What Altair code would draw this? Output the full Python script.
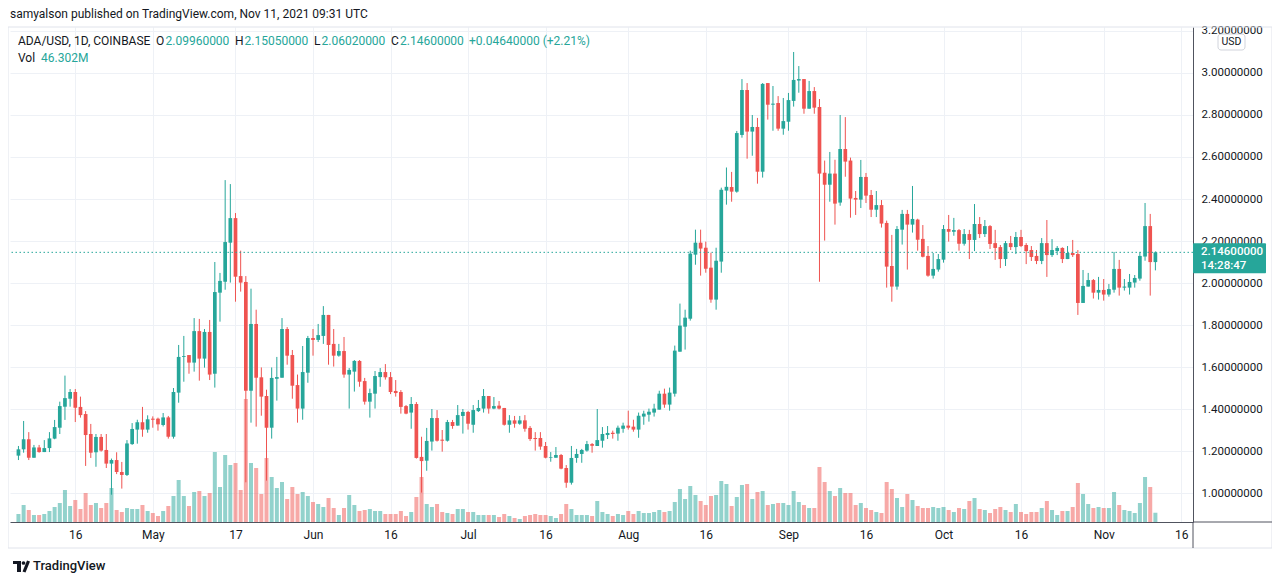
import altair as alt
import pandas as pd

FONT = "Roboto"
TEXT = "#131722"
UP = "#26a69a"
DOWN = "#ef5350"
GRID = "#eef1f6"
AXIS_LINE = "#50535e"
FRAME = "#e0e3eb"

# ---- daily ADA/USD candles, 2021-04-05 .. 2021-11-11 (one line per month) ----
opens = [
    1.178,1.208,1.256,1.168,1.217,1.195,1.214,1.259,1.311,1.411,1.449,1.481,1.410,1.376,1.281,1.194,1.267,1.205,1.140,1.157,1.100,1.086,1.233,1.302,1.337,1.302,
    1.354,1.354,1.324,1.360,1.268,1.478,1.648,1.657,1.621,1.771,1.640,1.767,1.568,1.954,2.006,2.192,2.309,2.033,2.005,1.487,1.805,1.551,1.462,1.311,1.544,1.549,1.781,1.657,1.514,1.402,1.573,
    1.738,1.729,1.748,1.848,1.710,1.654,1.676,1.564,1.578,1.629,1.533,1.435,1.473,1.552,1.576,1.552,1.486,1.481,1.414,1.383,1.424,1.172,1.154,1.245,1.357,1.254,1.249,1.338,1.321,1.367,
    1.386,1.325,1.390,1.402,1.462,1.402,1.416,1.405,1.325,1.346,1.330,1.346,1.310,1.262,1.262,1.224,1.168,1.168,1.181,1.119,1.049,1.167,1.186,1.202,1.233,1.224,1.249,1.276,1.287,1.283,1.306,
    1.321,1.316,1.302,1.364,1.373,1.383,1.397,1.473,1.421,1.473,1.673,1.792,1.830,2.135,2.192,2.168,2.073,1.921,2.102,2.440,2.457,2.435,2.705,2.919,2.721,2.743,2.530,2.952,2.849,2.857,2.735,
    2.768,2.867,2.964,2.971,2.830,2.914,2.838,2.525,2.468,2.521,2.383,2.638,2.583,2.405,2.397,2.505,2.419,2.349,2.371,2.286,2.081,1.983,2.254,2.329,2.278,2.302,2.210,2.129,2.035,2.064,
    2.111,2.257,2.244,2.252,2.187,2.233,2.205,2.281,2.233,2.271,2.190,2.171,2.114,2.190,2.171,2.219,2.181,2.157,2.129,2.105,2.190,2.133,2.152,2.167,2.114,2.143,2.138,1.905,1.983,2.014,1.954,
    1.967,1.945,1.968,2.067,1.978,1.978,2.002,2.021,2.126,2.271,2.0996,
]
highs = [
    1.224,1.343,1.290,1.229,1.229,1.252,1.290,1.348,1.435,1.559,1.495,1.495,1.459,1.390,1.329,1.281,1.281,1.281,1.164,1.194,1.148,1.252,1.333,1.349,1.410,1.370,
    1.365,1.359,1.381,1.367,1.500,1.705,1.748,1.657,1.833,1.829,1.781,1.824,2.100,2.048,2.490,2.471,2.333,2.154,2.033,1.973,1.873,1.598,1.492,1.598,1.648,1.833,1.790,1.681,1.564,1.700,1.748,
    1.781,1.805,1.890,1.848,1.781,1.710,1.743,1.595,1.633,1.633,1.548,1.497,1.581,1.595,1.614,1.576,1.538,1.490,1.419,1.457,1.433,1.268,1.310,1.400,1.395,1.300,1.348,1.348,1.419,1.400,
    1.391,1.419,1.443,1.495,1.462,1.457,1.438,1.405,1.371,1.367,1.367,1.371,1.319,1.290,1.290,1.243,1.195,1.219,1.186,1.133,1.224,1.210,1.210,1.248,1.238,1.400,1.314,1.319,1.297,1.321,1.335,
    1.392,1.349,1.383,1.392,1.402,1.425,1.487,1.497,1.502,1.702,1.902,1.873,2.154,2.254,2.254,2.197,2.144,2.168,2.454,2.550,2.529,2.724,2.971,2.952,2.800,2.786,2.952,2.952,2.938,2.890,2.881,
    2.905,3.100,3.033,2.971,2.962,2.933,2.876,2.583,2.624,2.587,2.800,2.790,2.597,2.438,2.586,2.524,2.443,2.438,2.395,2.297,2.229,2.271,2.348,2.348,2.462,2.306,2.276,2.176,2.143,2.138,
    2.276,2.324,2.310,2.257,2.257,2.253,2.376,2.314,2.300,2.276,2.253,2.181,2.200,2.224,2.243,2.253,2.190,2.176,2.157,2.214,2.300,2.209,2.176,2.170,2.176,2.205,2.157,2.062,2.048,2.019,2.029,
    2.019,1.995,2.148,2.110,2.019,2.043,2.038,2.148,2.381,2.329,2.1505,
]
lows = [
    1.157,1.192,1.157,1.168,1.192,1.195,1.195,1.256,1.281,1.348,1.411,1.338,1.359,1.129,1.167,1.125,1.197,1.119,0.992,1.090,1.021,1.081,1.229,1.235,1.268,1.287,
    1.311,1.297,1.317,1.259,1.259,1.430,1.530,1.568,1.578,1.535,1.597,1.538,1.502,1.816,1.968,2.002,1.911,1.959,1.051,1.335,1.316,1.368,1.059,1.259,1.440,1.549,1.611,1.449,1.335,1.349,1.525,
    1.654,1.719,1.710,1.611,1.602,1.649,1.549,1.402,1.483,1.506,1.421,1.359,1.402,1.506,1.540,1.471,1.459,1.378,1.375,1.306,1.164,1.002,1.106,1.202,1.245,1.197,1.245,1.306,1.321,1.283,
    1.302,1.287,1.386,1.383,1.378,1.399,1.398,1.321,1.287,1.311,1.325,1.292,1.248,1.202,1.206,1.165,1.149,1.168,1.113,1.025,1.040,1.144,1.144,1.197,1.192,1.224,1.216,1.257,1.259,1.249,1.287,
    1.302,1.292,1.263,1.325,1.340,1.364,1.397,1.406,1.392,1.459,1.673,1.683,1.821,2.087,2.035,2.049,1.906,1.873,2.049,2.373,2.387,2.430,2.692,2.592,2.606,2.473,2.502,2.778,2.725,2.725,2.706,
    2.725,2.840,2.906,2.806,2.830,2.806,2.006,2.202,2.387,2.278,2.368,2.506,2.311,2.324,2.357,2.381,2.314,2.314,2.264,1.978,1.911,1.968,2.183,2.064,2.240,2.154,2.122,2.030,2.021,2.054,
    2.097,2.197,2.225,2.154,2.178,2.114,2.152,2.214,2.219,2.162,2.110,2.071,2.081,2.157,2.138,2.171,2.090,2.105,2.090,2.090,2.029,2.124,2.133,2.095,2.114,2.124,1.848,1.905,1.983,1.926,1.921,
    1.916,1.935,1.954,1.940,1.964,1.945,1.978,2.011,2.106,1.940,2.0602,
]
closes = [
    1.208,1.256,1.168,1.217,1.195,1.214,1.260,1.314,1.414,1.452,1.481,1.406,1.371,1.276,1.192,1.267,1.202,1.140,1.157,1.100,1.086,1.236,1.305,1.337,1.302,1.351,
    1.349,1.327,1.360,1.268,1.481,1.648,1.652,1.621,1.771,1.640,1.767,1.564,1.957,2.010,2.195,2.309,2.030,2.002,1.487,1.805,1.549,1.459,1.311,1.548,1.552,1.781,1.654,1.511,1.402,1.576,1.738,
    1.729,1.752,1.848,1.705,1.654,1.676,1.564,1.586,1.629,1.530,1.435,1.476,1.557,1.576,1.551,1.481,1.476,1.410,1.378,1.424,1.167,1.152,1.248,1.357,1.249,1.249,1.338,1.319,1.371,1.386,
    1.330,1.395,1.405,1.462,1.402,1.414,1.402,1.325,1.346,1.330,1.346,1.306,1.257,1.257,1.221,1.168,1.171,1.181,1.116,1.049,1.167,1.186,1.205,1.233,1.225,1.252,1.281,1.286,1.281,1.311,1.321,
    1.311,1.302,1.368,1.378,1.387,1.402,1.473,1.421,1.478,1.678,1.797,1.835,2.140,2.192,2.164,2.068,1.921,2.106,2.444,2.458,2.435,2.714,2.919,2.721,2.743,2.530,2.948,2.849,2.854,2.735,2.771,
    2.871,2.967,2.971,2.830,2.914,2.835,2.521,2.468,2.521,2.378,2.638,2.578,2.402,2.397,2.505,2.416,2.349,2.371,2.283,2.078,1.983,2.257,2.329,2.278,2.305,2.206,2.125,2.035,2.067,2.114,
    2.257,2.244,2.252,2.187,2.233,2.205,2.281,2.233,2.271,2.186,2.167,2.114,2.190,2.171,2.219,2.176,2.152,2.124,2.105,2.190,2.133,2.157,2.167,2.114,2.143,2.133,1.905,1.986,2.014,1.954,1.967,
    1.945,1.971,2.067,1.978,1.983,2.005,2.024,2.129,2.271,2.0996,2.146,
]
volumes_m = [
    40,85,60,35,35,40,55,75,95,160,80,110,65,145,85,95,70,95,170,60,50,70,65,65,85,55,
    45,30,55,80,130,210,130,80,150,155,130,145,350,175,335,285,295,160,615,295,270,140,320,225,170,200,115,175,140,150,130,
    100,90,75,120,70,35,70,135,85,55,60,65,55,55,40,40,40,55,30,50,125,225,90,75,90,50,45,40,65,65,
    50,50,35,35,35,35,25,40,30,20,15,30,35,40,35,35,30,20,40,90,65,35,35,35,30,105,50,40,30,40,35,
    55,40,55,45,45,50,60,50,55,100,165,115,180,135,105,85,130,135,205,190,80,125,185,190,115,150,155,85,90,95,95,
    85,155,100,85,70,70,275,200,155,130,170,145,145,85,95,70,60,50,45,200,165,120,75,140,110,80,70,70,75,70,
    75,60,50,70,65,105,120,65,60,45,65,75,60,50,90,50,40,50,50,70,105,60,35,55,55,75,195,140,90,70,75,
    70,70,150,85,60,55,45,95,225,175,46.302,
]

tick_dates = ["2021-04-16", "2021-05-01", "2021-05-17", "2021-06-01", "2021-06-16",
              "2021-07-01", "2021-07-16", "2021-08-01", "2021-08-16", "2021-09-01",
              "2021-09-16", "2021-10-01", "2021-10-16", "2021-11-01", "2021-11-16"]
price_ticks = [1.0, 1.2, 1.4, 1.6, 1.8, 2.0, 2.2, 2.4, 2.6, 2.8, 3.0, 3.2]

n = len(closes)
dates = pd.date_range("2021-04-05", periods=n, freq="D")
df = pd.DataFrame({
    "t": dates.astype("int64") // 10**6,
    "open": opens, "high": highs, "low": lows, "close": closes, "vol": volumes_m,
})
df["dir"] = ["up" if c >= o else "down" for o, c in zip(opens, closes)]


def ms(s):
    return int(pd.Timestamp(s, tz="UTC").value // 10**6)


W, H = 1183, 495
x_scale = alt.Scale(type="utc", domain=[ms("2021-04-04 08:00"), ms("2021-11-17 07:26")])
x_axis = alt.Axis(
    values=[ms(d) for d in tick_dates],
    labelExpr="utcFormat(datum.value, '%d') == '01' ? utcFormat(datum.value, '%b') : utcFormat(datum.value, '%d')",
    grid=True, gridColor=GRID, domainColor=AXIS_LINE, ticks=False, tickSize=0,
    labelPadding=7, labelColor=TEXT, labelFont=FONT, labelFontSize=12,
    labelFlush=False, labelOverlap=False, title=None,
)
X = alt.X("t:T", scale=x_scale, axis=x_axis)

price_scale = alt.Scale(domain=[0.862, 3.219], nice=False, zero=False)
y_axis = alt.Axis(
    orient="right", values=price_ticks, format=".8f", grid=True, gridColor=GRID,
    domainColor=AXIS_LINE, ticks=False, tickSize=0, labelPadding=8,
    labelColor=TEXT, labelFont=FONT, labelFontSize=11.5, title=None,
)
color = alt.Color("dir:N", scale=alt.Scale(domain=["up", "down"], range=[UP, DOWN]), legend=None)

vol = alt.Chart(df).mark_bar(size=4, opacity=0.5).encode(
    x=X,
    y=alt.Y("vol:Q", scale=alt.Scale(domain=[0, 2475], nice=False), axis=None),
    color=color,
)

wicks = alt.Chart(df).mark_rule(strokeWidth=1).encode(
    x=X, y=alt.Y("low:Q", scale=price_scale, axis=y_axis), y2="high:Q", color=color)
bodies = alt.Chart(df).mark_bar(size=3.7).encode(
    x=X, y=alt.Y("open:Q", scale=price_scale, axis=y_axis), y2="close:Q", color=color)

last = pd.DataFrame({"p": [closes[-1]]})
pline = alt.Chart(last).mark_rule(strokeDash=[1.5, 2.5], color=UP, strokeWidth=1).encode(
    y=alt.Y("p:Q", scale=price_scale, axis=y_axis))
pbox = alt.Chart(last).transform_calculate(
    top="datum.p + 0.043", bot="datum.p - 0.100"
).mark_rect(color=UP, cornerRadius=1).encode(
    x=alt.value(W), x2=alt.value(W + 73),
    y=alt.Y("top:Q", scale=price_scale, axis=y_axis), y2="bot:Q")
ptxt = alt.Chart(last).mark_text(align="left", baseline="middle", color="white",
                                 font=FONT, fontSize=11.5, fontWeight=500).encode(
    x=alt.value(W + 8), y=alt.Y("p:Q", scale=price_scale, axis=y_axis),
    text=alt.Text("p:Q", format=".8f"))
ptime = alt.Chart(last).mark_text(align="left", baseline="middle", color="white",
                                  font=FONT, fontSize=11.5, fontWeight=500, dy=14).encode(
    x=alt.value(W + 8), y=alt.Y("p:Q", scale=price_scale, axis=y_axis),
    text=alt.value("14:28:47"))

dummy = pd.DataFrame({"a": [0]})


def label(txt, x, y, col=TEXT, size=12, weight="normal", align="left"):
    return alt.Chart(dummy).mark_text(align=align, baseline="middle", font=FONT, fontSize=size,
                                      fontWeight=weight, color=col).encode(
        x=alt.value(x), y=alt.value(y), text=alt.value(txt))


def box(x, x2, y, y2, **kw):
    return alt.Chart(dummy).mark_rect(**kw).encode(
        x=alt.value(x), x2=alt.value(x2), y=alt.value(y), y2=alt.value(y2))


def line(x, x2, y, y2, col, w=1):
    return alt.Chart(dummy).mark_rule(color=col, strokeWidth=w).encode(
        x=alt.value(x), x2=alt.value(x2), y=alt.value(y), y2=alt.value(y2))


o, h, l, c = opens[-1], highs[-1], lows[-1], closes[-1]
chg = c - closes[-2]
pct = chg / closes[-2] * 100

frame = box(-2, 1262, 0, 521, fillOpacity=0, stroke=FRAME, strokeWidth=1)
deco = [
    frame,
    line(W, 1262, H, H, AXIS_LINE),
    line(W, W, H, 521, AXIS_LINE),
    label("samyalson published on TradingView.com, Nov 11, 2021 09:31 UTC", 0, -13),
    label("ADA/USD, 1D, COINBASE", 8, 14),
    label("O", 146, 14), label(f"{o:.8f}", 155.5, 14, UP),
    label("H", 225, 14), label(f"{h:.8f}", 234.5, 14, UP),
    label("L", 304, 14), label(f"{l:.8f}", 311.5, 14, UP),
    label("C", 381, 14), label(f"{c:.8f}", 390, 14, UP),
    label(f"{chg:+.8f} ({pct:+.2f}%)", 459, 14, UP),
    label("Vol", 8, 31), label(f"{volumes_m[-1]:.3f}M", 31, 31, UP),
    box(1208, 1235, 7, 23, fill="white", stroke="#d1d4dc", strokeWidth=1, cornerRadius=3),
    label("USD", 1221.5, 15, size=10.5, align="center"),
    # TradingView logo (approximation) + wordmark
    box(3, 11, 534, 537, fill=TEXT),
    box(7, 11, 534, 545, fill=TEXT),
    alt.Chart(dummy).mark_point(filled=True, size=14, color=TEXT, opacity=1).encode(
        x=alt.value(13.5), y=alt.value(536)),
    line(14, 18.5, 545, 534, TEXT, 3.2),
    label("TradingView", 23, 539, size=13, weight=500),
]

price_group = alt.layer(wicks, bodies, pline, pbox, ptxt, ptime, *deco)

chart = alt.layer(vol, price_group).resolve_scale(y="independent").properties(
    width=W, height=H,
    padding={"left": 2, "top": 19, "right": 79, "bottom": 54},
    autosize=alt.AutoSizeParams(type="none"),
    background="white",
).configure_view(stroke=None)

chart.save("out.html", embed_options={"renderer": "svg", "actions": False})
